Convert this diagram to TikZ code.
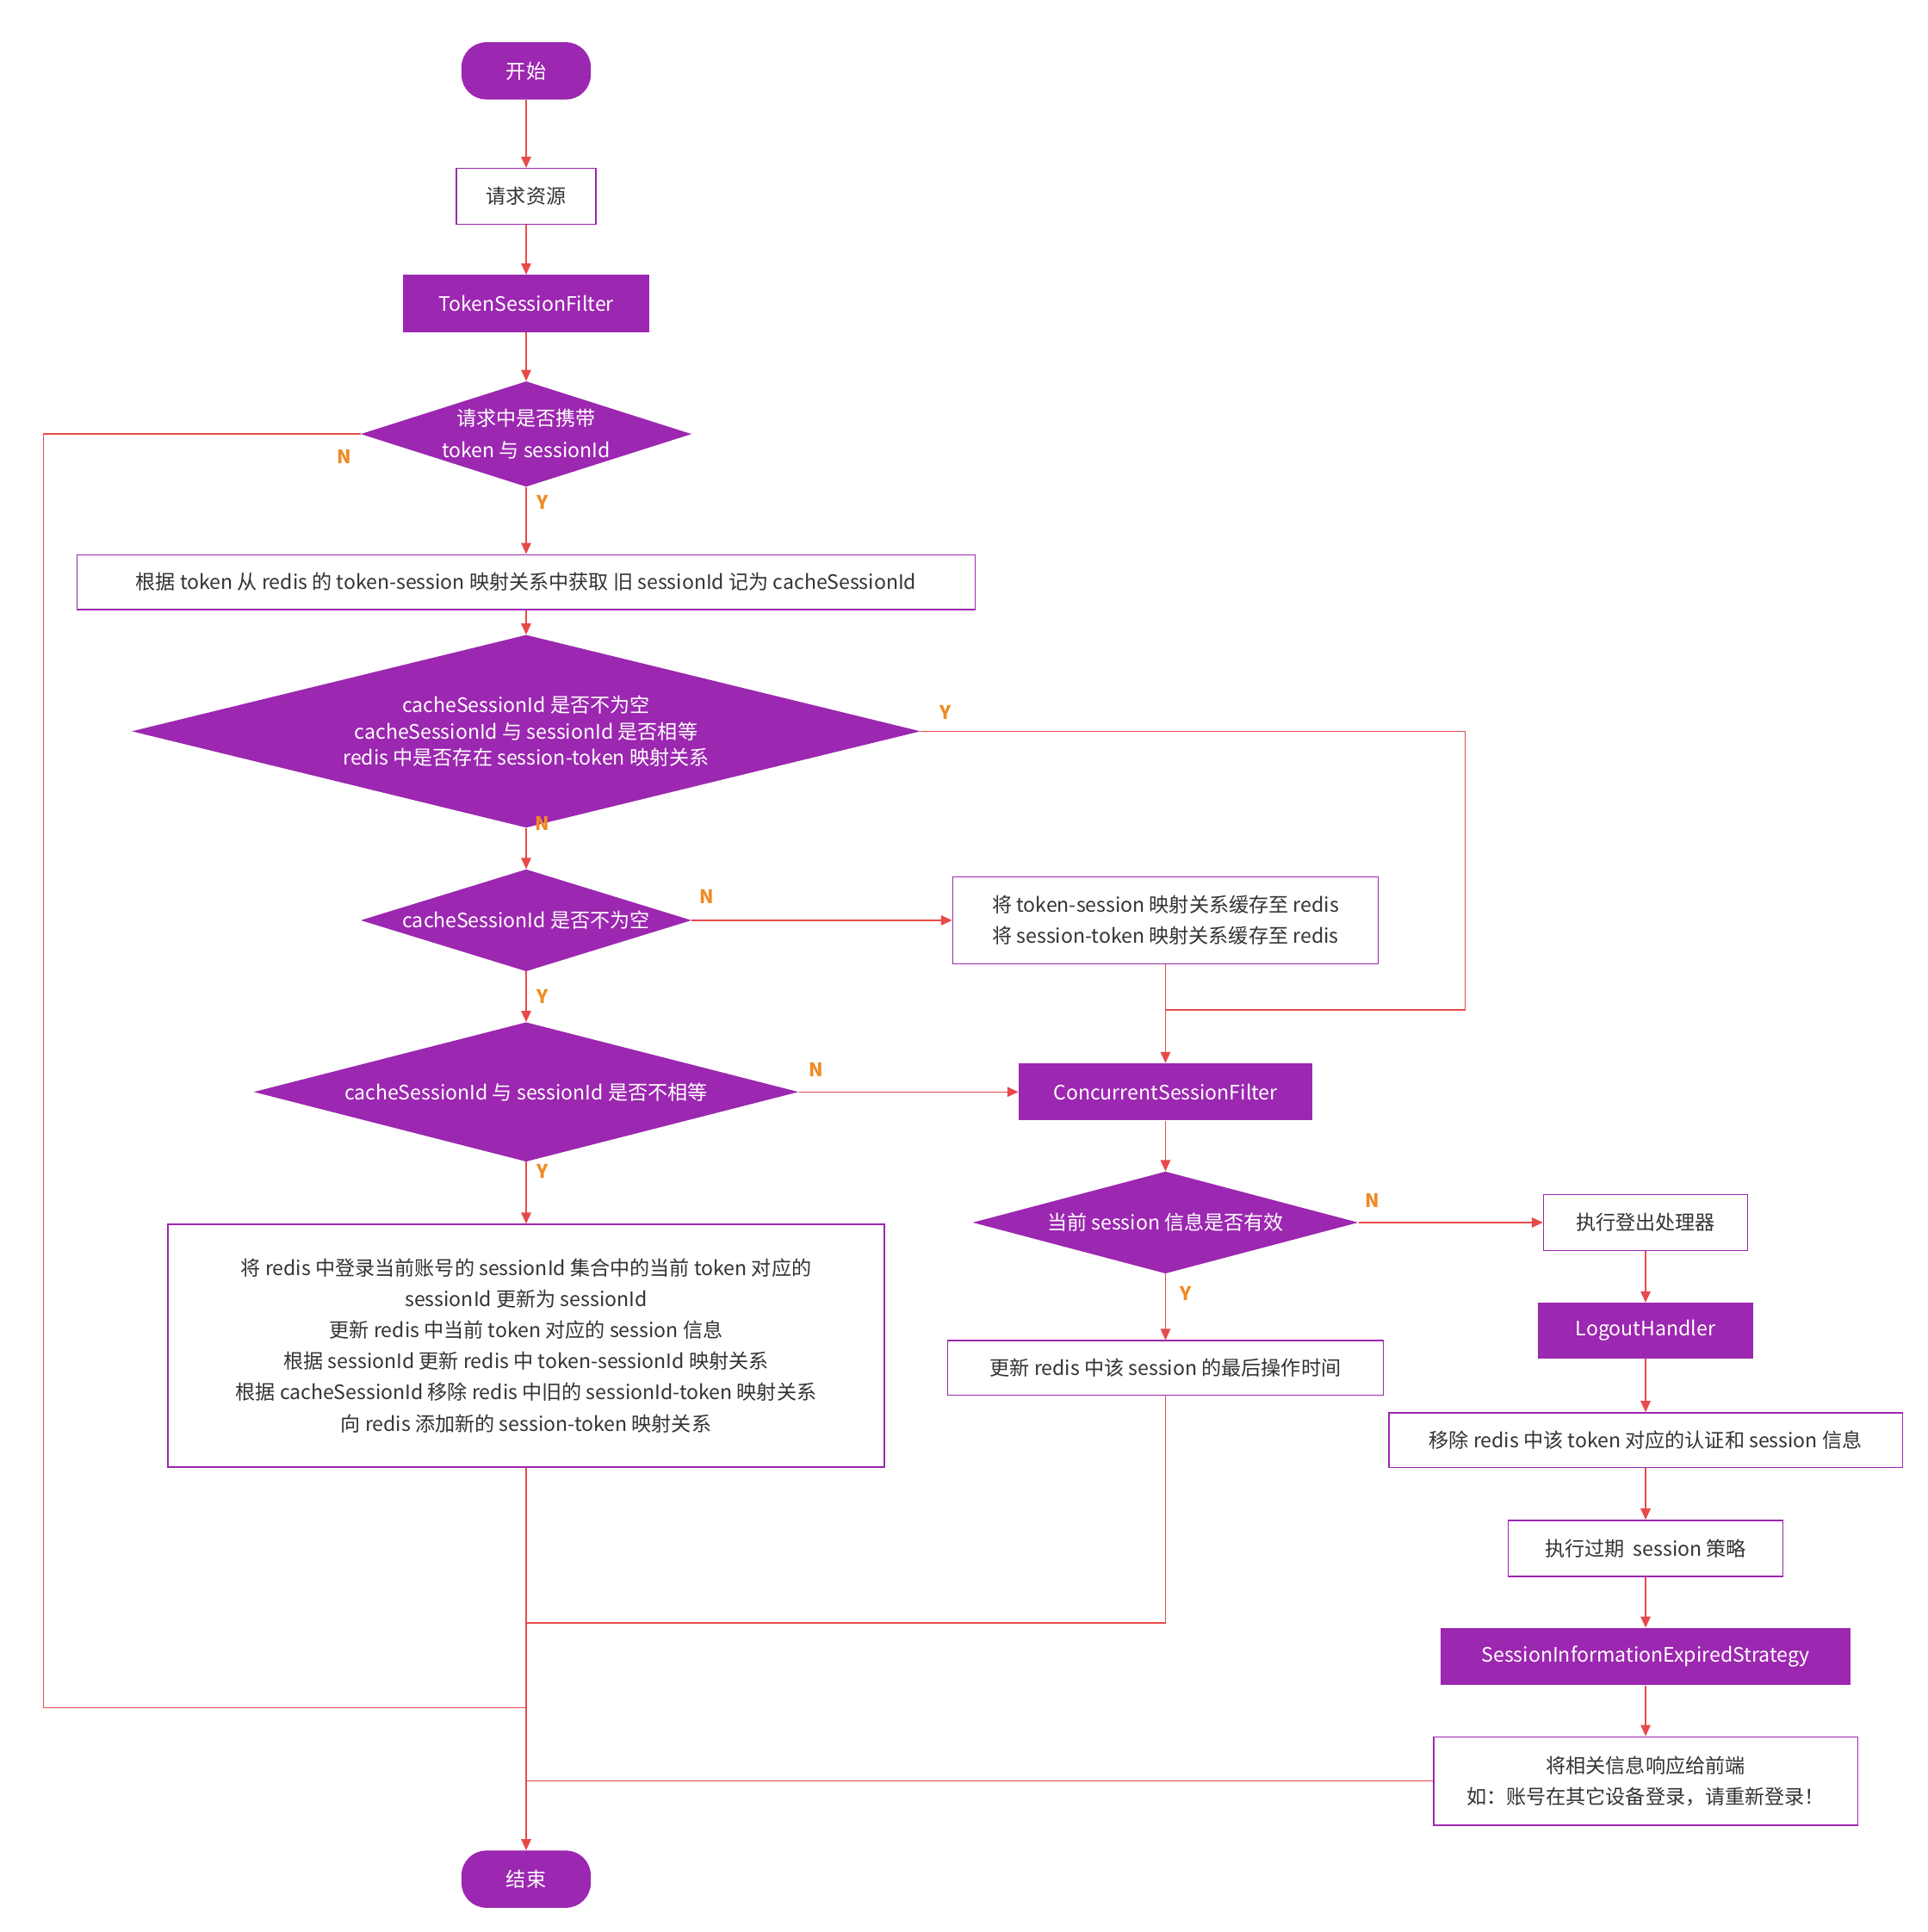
\documentclass[tikz,border=0pt]{standalone}
\usepackage{fontspec}
\setmainfont{Noto Sans CJK SC}
\usetikzlibrary{shapes.geometric,arrows.meta}
\definecolor{pp}{HTML}{9C27B0}
\definecolor{ln}{HTML}{E84A4A}
\definecolor{lb}{HTML}{F08A24}
\definecolor{tx}{HTML}{333333}
\begin{document}
\begin{tikzpicture}[x=1pt,y=-1pt,
 every node/.style={font=\fontsize{16}{25}\selectfont,text=tx,align=center,inner sep=0},
 pbox/.style={draw=pp,fill=white,line width=1pt},
 fbox/.style={fill=pp,text=white},
 pill/.style={fill=pp,text=white,rounded corners=20pt,minimum width=104pt,minimum height=46pt},
 dia/.style={diamond,fill=pp,text=white,aspect=3},
 ar/.style={draw=ln,line width=1pt,-{Triangle[length=9pt,width=8pt]}},
 li/.style={draw=ln,line width=1pt},
 yn/.style={text=lb,font=\fontsize{15}{18}\selectfont\bfseries}]
\useasboundingbox (0,0) rectangle (1550,1553.5);
\node[pill] (start) at (423,57) {开始};
\node[pbox,minimum width=112pt,minimum height=45pt] (req) at (423,158) {请求资源};
\node[fbox,minimum width=198pt,minimum height=46pt] (tsf) at (423,244) {TokenSessionFilter};
\node[dia,minimum width=266pt,minimum height=82pt] (d1) at (423,349) {请求中是否携带\\token 与 sessionId};
\node[pbox,minimum width=722pt,minimum height=44pt] (get) at (423,468) {根据 token 从 redis 的 token-session 映射关系中获取 旧 sessionId 记为 cacheSessionId};
\node[dia,minimum width=634pt,minimum height=112pt,font=\fontsize{16}{21}\selectfont] (d2) at (423,588) {cacheSessionId 是否不为空\\cacheSessionId 与 sessionId 是否相等\\redis 中是否存在 session-token 映射关系};
\node[dia,minimum width=266pt,minimum height=82pt] (d3) at (423,740) {cacheSessionId 是否不为空};
\node[pbox,minimum width=342pt,minimum height=70pt] (cache) at (937,740) {将 token-session 映射关系缓存至 redis\\将 session-token 映射关系缓存至 redis};
\node[dia,minimum width=438pt,minimum height=82pt] (d4) at (423,878) {cacheSessionId 与 sessionId 是否不相等};
\node[fbox,minimum width=236pt,minimum height=46pt] (csf) at (937,878) {ConcurrentSessionFilter};
\node[pbox,minimum width=576pt,minimum height=195pt] (big) at (423,1082) {将 redis 中登录当前账号的 sessionId 集合中的当前 token 对应的\\sessionId 更新为 sessionId\\更新 redis 中当前 token 对应的 session 信息\\根据 sessionId 更新 redis 中 token-sessionId 映射关系\\根据 cacheSessionId 移除 redis 中旧的 sessionId-token 映射关系\\向 redis 添加新的 session-token 映射关系};
\node[dia,minimum width=310pt,minimum height=82pt] (d5) at (937,983) {当前 session 信息是否有效};
\node[pbox,minimum width=350pt,minimum height=44pt] (upd) at (937,1100) {更新 redis 中该 session 的最后操作时间};
\node[pbox,minimum width=164pt,minimum height=45pt] (lo) at (1323,983) {执行登出处理器};
\node[fbox,minimum width=173pt,minimum height=45pt] (lh) at (1323,1070) {LogoutHandler};
\node[pbox,minimum width=413pt,minimum height=44pt] (rm) at (1323,1158) {移除 redis 中该 token 对应的认证和 session 信息};
\node[pbox,minimum width=221pt,minimum height=45pt] (exp) at (1323,1245) {执行过期\ \ session 策略};
\node[fbox,minimum width=329pt,minimum height=46pt] (sies) at (1323,1332) {SessionInformationExpiredStrategy};
\node[pbox,minimum width=341pt,minimum height=71pt] (resp) at (1323,1432) {将相关信息响应给前端\\如：账号在其它设备登录，请重新登录！};
\node[pill] (end) at (423,1511) {结束};
\coordinate (j1) at (423,1373);
\coordinate (j2) at (423,1305);
\coordinate (j3) at (423,1432);
\coordinate (j4) at (937,812);
\draw[ar] (start) -- (req);
\draw[ar] (req) -- (tsf);
\draw[ar] (tsf) -- (d1);
\draw[ar] (d1) -- (get);
\draw[ar] (get) -- (d2);
\draw[ar] (d2) -- (d3);
\draw[ar] (d3) -- (d4);
\draw[ar] (d3) -- (cache);
\draw[ar] (cache) -- (csf);
\draw[ar] (d4) -- (csf);
\draw[ar] (d4) -- (big);
\draw[ar] (csf) -- (d5);
\draw[ar] (d5) -- (upd);
\draw[ar] (d5) -- (lo);
\draw[ar] (lo) -- (lh);
\draw[ar] (lh) -- (rm);
\draw[ar] (rm) -- (exp);
\draw[ar] (exp) -- (sies);
\draw[ar] (sies) -- (resp);
\draw[ar] (big) -- (end);
\draw[li] (d1.west) -- (35,349) -- (35,1373) -- (j1);
\draw[li] (d2.east) -- (1178,588) -- (1178,812) -- (j4);
\draw[li] (upd) -- (937,1305) -- (j2);
\draw[li] (resp) -- (j3);
\node[yn] at (277,367) {N};
\node[yn] at (436,404) {Y};
\node[yn] at (760,573) {Y};
\node[yn] at (436,662) {N};
\node[yn] at (568,721) {N};
\node[yn] at (436,801) {Y};
\node[yn] at (656,860) {N};
\node[yn] at (436,942) {Y};
\node[yn] at (1103,965) {N};
\node[yn] at (953,1040) {Y};
\end{tikzpicture}
\end{document}
